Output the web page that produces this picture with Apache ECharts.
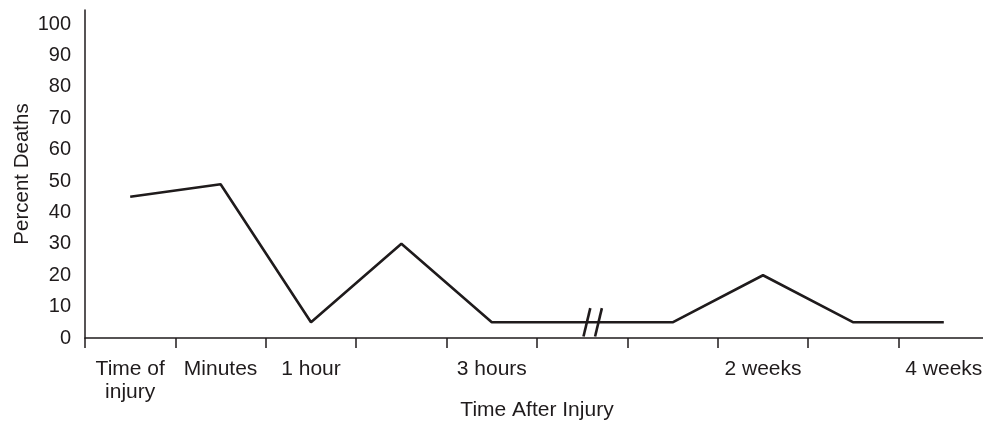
<!DOCTYPE html>
<html>
<head>
<meta charset="utf-8">
<script src="https://cdn.jsdelivr.net/npm/echarts@6/dist/echarts.min.js"></script>
<style>
  html, body { margin: 0; padding: 0; background: #fff; }
  #chart { width: 983px; height: 428px; }
</style>
</head>
<body>
<div id="chart"></div>
<script>
// Time periods after injury (blank slots are unlabelled intervals)
const timeLabels = ['Time of\ninjury', 'Minutes', '1 hour', '', '3 hours', '', '', '2 weeks', '', '4 weeks'];
// Percent of deaths at each time period
const percentDeaths = [45, 49, 5, 30, 5, 5, 5, 20, 5, 5];
// Where the time axis is broken (category index, value on the line)
const axisBreak = [[5, 5]];
// Y axis tick labels
const yTicks = [0, 10, 20, 30, 40, 50, 60, 70, 80, 90, 100];

const INK = '#1f1b1c';
const FONT = '"Liberation Sans", Arial, Helvetica, sans-serif';

const chart = echarts.init(document.getElementById('chart'), null, { renderer: 'canvas' });

chart.setOption({
  backgroundColor: '#ffffff',
  animation: false,
  // the last time band runs slightly past the right edge of the page
  grid: {
    left: 85, width: 904, top: 10, bottom: 90,
    containLabel: false,
    outerBoundsMode: 'none'
  },
  xAxis: {
    type: 'category',
    data: timeLabels,
    boundaryGap: true,
    name: 'Time After Injury',
    nameLocation: 'middle',
    nameGap: 62,
    nameMoveOverlap: false,
    nameTextStyle: { color: INK, fontFamily: FONT, fontSize: 21 },
    axisLine: { lineStyle: { color: INK, width: 1.5 } },
    axisTick: { show: true, length: 10, interval: 0, lineStyle: { color: INK, width: 1.5 } },
    axisLabel: {
      interval: 0,
      margin: 20,
      color: INK,
      fontFamily: FONT,
      fontSize: 21,
      lineHeight: 23
    },
    splitLine: { show: false }
  },
  yAxis: {
    type: 'value',
    min: 0,
    max: 104.5,
    interval: 10,
    name: 'Percent Deaths',
    nameLocation: 'middle',
    nameGap: 52,
    nameMoveOverlap: false,
    nameTextStyle: { color: INK, fontFamily: FONT, fontSize: 20.5 },
    axisLine: { show: true, lineStyle: { color: INK, width: 1.5 } },
    axisTick: { show: false },
    axisLabel: {
      margin: 14,
      color: INK,
      fontFamily: FONT,
      fontSize: 20,
      formatter: v => (yTicks.indexOf(v) >= 0 ? String(v) : '')
    },
    splitLine: { show: false }
  },
  series: [
    {
      type: 'line',
      data: percentDeaths,
      symbol: 'none',
      lineStyle: { color: INK, width: 2.6 },
      z: 3
    },
    {
      // double-slash break marks across the line
      type: 'custom',
      data: axisBreak,
      z: 4,
      renderItem: function (params, api) {
        const c = api.coord([api.value(0), api.value(1)]);
        const band = api.size([1, 0])[0];
        const cx = c[0] + band * 0.116;
        const cy = c[1];
        const dx = 3.4, dy = 14.2, gap = 5.8;
        const style = { stroke: INK, lineWidth: 2.6, fill: null };
        return {
          type: 'group',
          children: [
            { type: 'line', shape: { x1: cx - gap - dx, y1: cy + dy, x2: cx - gap + dx, y2: cy - dy }, style: style },
            { type: 'line', shape: { x1: cx + gap - dx, y1: cy + dy, x2: cx + gap + dx, y2: cy - dy }, style: style }
          ]
        };
      }
    }
  ]
});
</script>
</body>
</html>
